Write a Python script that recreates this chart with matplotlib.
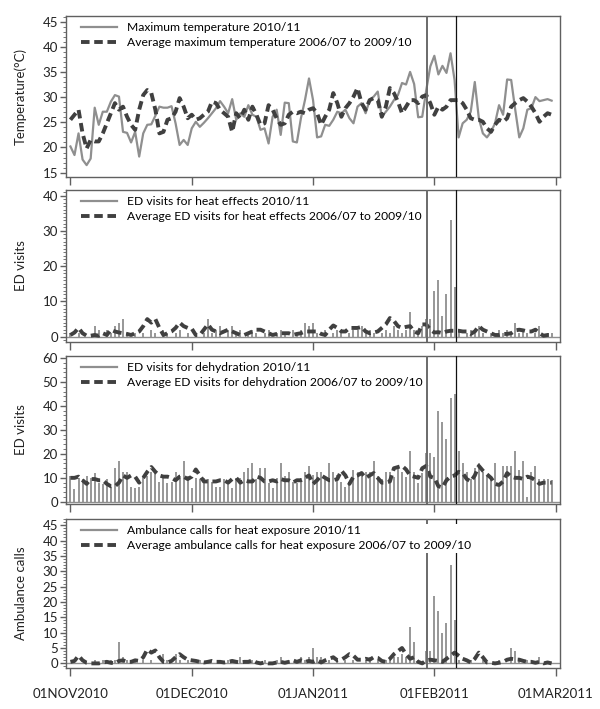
import matplotlib
matplotlib.use("Agg")
import matplotlib.pyplot as plt
from matplotlib.lines import Line2D
from matplotlib.ticker import MultipleLocator
import numpy as np

plt.rcParams['font.family'] = ['Lato', 'DejaVu Sans']

# ---------------- data ----------------
days = list(range(120))  # day 0 = 01NOV2010
xtick_pos = [0, 30, 60, 90, 120]
xtick_labels = ["01NOV2010", "01DEC2010", "01JAN2011", "01FEB2011", "01MAR2011"]
ref_lines = [88.1, 95.4]

temp_max = [20.2, 18.5, 22.8, 17.6, 16.5, 17.8, 27.9, 24.5, 27.1, 27.1,
            29.1, 30.4, 30.1, 23.1, 22.9, 21.0, 23.1, 18.2, 22.8, 24.5,
            24.6, 26.3, 28.1, 27.9, 27.9, 28.2, 24.8, 20.5, 21.5, 20.5,
            23.8, 25.1, 24.1, 24.9, 25.8, 26.8, 27.8, 29.2, 28.1, 26.8,
            29.6, 25.5, 26.8, 26.1, 28.4, 26.5, 26.1, 23.5, 23.8, 20.8,
            26.1, 27.5, 22.5, 28.9, 28.8, 21.2, 21.0, 25.8, 29.4, 33.7,
            29.4, 22.0, 22.2, 24.5, 24.3, 25.5, 27.1, 26.8, 27.5, 25.8,
            24.8, 28.1, 28.8, 26.8, 29.4, 30.1, 31.1, 26.1, 27.1, 28.1,
            29.4, 30.4, 32.8, 32.5, 35.0, 32.6, 26.0, 26.1, 31.4, 36.1,
            38.2, 34.5, 36.2, 34.8, 38.7, 33.4, 22.0, 24.8, 25.5, 27.1,
            33.0, 25.8, 22.8, 22.0, 23.1, 24.8, 28.4, 26.5, 33.5, 33.4,
            27.5, 22.0, 23.8, 27.5, 27.8, 30.0, 29.2, 29.4, 29.6, 29.3]

temp_avg = [25.5, 26.5, 27.5, 22.8, 19.8, 21.5, 21.2, 21.2, 22.8, 24.8,
            26.8, 28.8, 27.5, 28.1, 26.1, 24.5, 23.5, 27.5, 30.4, 31.4,
            30.8, 27.5, 22.8, 23.1, 25.5, 25.8, 27.1, 29.8, 28.1, 25.8,
            26.5, 25.5, 25.8, 26.5, 27.1, 29.1, 28.8, 27.5, 26.8, 26.1,
            23.1, 26.8, 25.8, 27.5, 25.5, 28.1, 26.5, 24.5, 24.8, 28.4,
            27.5, 25.8, 24.5, 24.8, 26.5, 27.1, 26.8, 27.1, 26.8, 27.5,
            27.8, 26.8, 24.5, 26.1, 27.5, 30.8, 28.8, 26.1, 27.8, 28.8,
            30.1, 31.8, 28.8, 27.5, 29.4, 29.8, 29.4, 26.1, 28.1, 31.8,
            30.8, 29.1, 26.8, 28.1, 29.4, 29.4, 28.8, 30.1, 30.4, 28.8,
            26.5, 28.1, 27.5, 28.1, 29.4, 29.4, 29.4, 28.8, 27.5, 25.8,
            25.5, 25.5, 25.1, 23.8, 23.1, 24.5, 25.5, 25.1, 25.8, 28.1,
            28.8, 29.4, 29.8, 29.1, 28.1, 26.8, 25.1, 26.1, 26.8, 26.5]

ed_heat = [1, 0, 1, 0, 0, 0, 3, 2, 0, 2,
           1, 3, 4, 5, 1, 0, 1, 0, 1, 0,
           2, 1, 0, 2, 1, 0, 1, 2, 0, 1,
           0, 1, 0, 1, 5, 1, 2, 3, 0, 2,
           3, 1, 2, 0, 1, 2, 1, 0, 1, 2,
           0, 1, 2, 1, 0, 2, 1, 2, 4, 3,
           4, 1, 0, 2, 0, 1, 2, 1, 0, 1,
           2, 2, 3, 1, 2, 1, 0, 1, 2, 1,
           3, 2, 1, 2, 7, 2, 1, 3, 5, 5,
           13, 16, 6, 12, 33, 14, 2, 0, 1, 2,
           1, 3, 1, 0, 1, 0, 2, 1, 2, 1,
           4, 1, 2, 1, 0, 1, 3, 0, 1, 1]

ed_heat_avg = [0.5, 1.2, 2.5, 1.0, 0.3, 0.3, 0.5, 0.3, 1.0, 0.5,
               2.0, 1.5, 1.2, 1.0, 0.8, 0.5, 1.0, 1.5, 3.0, 5.0,
               4.0, 5.0, 2.5, 0.5, 1.0, 1.5, 2.5, 4.0, 3.0, 2.5,
               2.3, 0.5, 0.5, 2.0, 3.5, 2.0, 1.5, 1.0, 1.5, 2.0,
               1.5, 1.0, 0.5, 0.5, 1.0, 1.5, 2.0, 2.0, 1.5, 1.0,
               0.5, 0.8, 1.0, 1.0, 1.0, 0.5, 0.8, 1.0, 1.5, 1.5,
               1.5, 1.5, 0.8, 0.5, 2.0, 3.2, 2.5, 1.5, 1.5, 2.5,
               2.5, 2.5, 2.8, 1.5, 1.0, 1.2, 1.5, 2.5, 3.5, 5.3,
               4.5, 3.0, 2.5, 2.8, 3.0, 1.5, 1.0, 3.5, 3.5, 2.0,
               1.2, 1.3, 1.0, 1.5, 1.7, 1.7, 1.7, 1.5, 1.5, 0.8,
               1.5, 3.0, 2.0, 1.5, 1.0, 0.5, 0.5, 0.8, 0.8, 1.0,
               1.8, 2.0, 1.8, 1.5, 1.5, 2.0, 1.0, 0.3, 0.5, 0.5]

dehyd = [10.9, 5.3, 10.0, 9.5, 10.9, 9.8, 12.2, 7.7, 7.3, 9.5,
         6.3, 14.0, 17.1, 12.3, 12.3, 6.2, 5.6, 6.2, 10.9, 10.9,
         12.3, 12.3, 8.4, 10.9, 7.7, 8.4, 12.3, 10.9, 17.1, 10.9,
         5.6, 9.8, 9.5, 10.0, 9.5, 8.4, 6.3, 6.3, 9.5, 8.4,
         5.6, 10.0, 10.0, 12.3, 14.0, 16.1, 9.5, 14.0, 14.0, 7.7,
         5.6, 10.0, 16.1, 10.9, 12.3, 8.4, 7.7, 10.0, 12.6, 15.0,
         11.2, 12.3, 12.3, 9.5, 16.1, 12.3, 11.2, 8.4, 6.3, 7.7,
         13.3, 12.3, 10.9, 12.3, 12.3, 17.1, 10.9, 9.5, 12.3, 12.3,
         10.5, 14.0, 12.3, 10.5, 21.0, 12.3, 7.7, 11.9, 20.3, 20.3,
         18.9, 38.0, 33.1, 26.3, 43.4, 45.0, 21.0, 16.1, 12.3, 9.5,
         14.0, 16.1, 12.3, 10.9, 9.5, 16.1, 6.3, 15.0, 15.0, 15.0,
         21.0, 13.3, 17.1, 2.1, 12.3, 15.0, 9.5, 9.5, 9.5, 9.0]

dehyd_avg = [10.0, 10.0, 10.5, 9.0, 7.5, 9.5, 9.5, 9.0, 9.0, 7.5,
             6.5, 6.5, 8.0, 11.0, 10.0, 11.0, 10.5, 8.0, 10.0, 12.5,
             14.5, 12.5, 11.0, 10.5, 10.5, 10.0, 9.0, 10.5, 10.5, 9.5,
             10.5, 13.5, 11.0, 8.5, 8.5, 8.5, 8.5, 9.0, 9.0, 8.0,
             9.5, 10.0, 8.0, 9.0, 8.5, 8.5, 10.5, 10.0, 8.5, 8.5,
             9.0, 8.5, 9.5, 9.0, 9.0, 8.0, 9.0, 9.0, 10.0, 11.0,
             7.5, 9.0, 11.0, 10.0, 9.0, 9.0, 9.5, 13.0, 11.0, 7.5,
             10.5, 11.0, 12.0, 10.0, 11.0, 12.0, 10.0, 8.0, 8.0, 8.5,
             14.0, 14.5, 15.0, 13.5, 11.0, 10.5, 10.0, 14.0, 15.0, 10.5,
             10.0, 6.5, 6.0, 9.0, 10.5, 11.0, 12.5, 12.0, 9.5, 8.5,
             11.0, 15.0, 13.0, 11.5, 10.0, 7.5, 7.0, 8.5, 12.0, 10.5,
             10.0, 10.0, 9.5, 10.5, 10.0, 9.0, 7.5, 8.0, 8.0, 8.0]

amb = [0, 1, 0, 0, 0, 0, 1, 0, 1, 0,
       1, 1, 7, 2, 1, 0, 1, 0, 1, 0,
       1, 0, 0, 3, 1, 0, 3, 1, 0, 1,
       0, 0, 1, 0, 1, 0, 0, 1, 0, 1,
       0, 1, 2, 1, 0, 1, 0, 0, 1, 0,
       0, 1, 2, 0, 1, 0, 1, 2, 1, 2,
       5, 2, 2, 0, 1, 0, 1, 0, 1, 0,
       1, 0, 0, 1, 2, 0, 1, 0, 1, 1,
       2, 2, 3, 2, 12, 7, 1, 0, 4, 4,
       22, 17, 10, 13, 32, 14, 1, 0, 0, 1,
       0, 0, 1, 0, 0, 0, 1, 0, 0, 5,
       4, 1, 0, 1, 0, 0, 2, 0, 0, 0]

amb_avg = [0.5, 0.8, 2.5, 1.0, 0.2, 0.0, 0.0, 0.0, 0.3, 0.5,
           0.2, 0.0, 0.8, 1.0, 0.5, 0.5, 1.0, 0.8, 2.0, 4.5,
           3.5, 4.2, 2.0, 0.5, 0.3, 0.8, 2.0, 3.0, 2.0, 1.2,
           1.0, 0.8, 0.5, 0.3, 0.5, 0.8, 0.5, 0.5, 0.3, 0.5,
           0.8, 0.5, 0.3, 0.5, 0.5, 1.0, 0.3, 0.0, 0.3, 0.0,
           0.0, 0.3, 0.5, 0.2, 0.5, 1.0, 0.5, 1.0, 0.5, 0.8,
           0.5, 1.0, 0.3, 1.0, 1.5, 2.0, 1.0, 1.2, 2.0, 3.0,
           2.5, 1.2, 1.2, 1.5, 1.2, 2.0, 1.8, 0.8, 0.5, 1.5,
           3.0, 4.0, 5.0, 3.0, 1.5, 2.0, 0.5, 0.0, 1.0, 1.2,
           1.0, 0.8, 0.5, 1.5, 2.5, 3.5, 2.5, 1.5, 1.0, 0.3,
           1.5, 3.5, 2.0, 0.3, 0.2, 0.0, 0.2, 0.5, 1.2, 1.5,
           1.3, 1.2, 0.8, 0.5, 0.5, 0.2, 0.5, 0.0, 0.3, 0.0]

labels = [("Maximum temperature 2010/11", "Average maximum temperature 2006/07 to 2009/10"),
          ("ED visits for heat effects 2010/11", "Average ED visits for heat effects 2006/07 to 2009/10"),
          ("ED visits for dehydration 2010/11", "Average ED visits for dehydration 2006/07 to 2009/10"),
          ("Ambulance calls for heat exposure 2010/11", "Average ambulance calls for heat exposure 2006/07 to 2009/10")]
ylabels = ["Temperature(\u00b0C)", "ED visits", "ED visits", "Ambulance calls"]

# ---------------- layout ----------------
W, H = 600, 709
fig = plt.figure(figsize=(W / 100, H / 100), dpi=100)
left_px, right_px = 66.4, 559.7
panels_px = [(16, 176.7), (190, 341.7), (356, 504), (519, 668.3)]
ylims = [(14.2, 46.1), (-1.4, 41.6), (-0.9, 60.8), (-1.6, 47)]
ymajor = [5, 10, 10, 5]
yminor = [1, 1, 2, 1]

GRAY = "#8f8f8f"
DARK = "#404040"
SPINE = "#606060"
TXT = "#222222"
FS = 8.7
dash = (0, (2.2, 1.2))

axes = []
for i, (top, bot) in enumerate(panels_px):
    ax = fig.add_axes([left_px / W, 1 - bot / H, (right_px - left_px) / W, (bot - top) / H])
    axes.append(ax)

series = [(temp_max, temp_avg, 'line'), (ed_heat, ed_heat_avg, 'bar'),
          (dehyd, dehyd_avg, 'bar'), (amb, amb_avg, 'bar')]

for i, ax in enumerate(axes):
    cur, avg, kind = series[i]
    if kind == 'line':
        ax.plot(days, cur, color=GRAY, lw=1.6, zorder=2)
    else:
        ax.axhline(0, color=GRAY, lw=1.0, zorder=1)
        ax.vlines(days, 0, cur, color=GRAY, lw=1.3, zorder=2)
    ax.plot(days, avg, color=DARK, lw=2.8, linestyle=dash, zorder=3)
    ax.axvline(ref_lines[0], color="#6a6a6a", lw=1.4, zorder=4)
    ax.axvline(ref_lines[1], color="#111111", lw=0.9, zorder=4)

    ax.set_xlim(-1, 121)
    ax.set_ylim(*ylims[i])
    ax.yaxis.set_major_locator(MultipleLocator(ymajor[i]))
    ax.yaxis.set_minor_locator(MultipleLocator(yminor[i]))
    ax.set_xticks(xtick_pos)
    if i == 3:
        ax.set_xticklabels(xtick_labels, fontsize=9.5, color=TXT)
    else:
        ax.set_xticklabels([])
    ax.tick_params(axis='x', direction='out', length=6, width=1, color=SPINE, pad=8)
    ax.tick_params(axis='y', which='major', direction='out', length=4, width=1,
                   color=SPINE, labelsize=9.5, labelcolor=TXT, pad=2)
    ax.tick_params(axis='y', which='minor', direction='out', length=2, width=0.6, color=SPINE)
    for s in ax.spines.values():
        s.set_color(SPINE)
        s.set_linewidth(1.0)
    ax.set_ylabel(ylabels[i], fontsize=9.5, color=TXT)
    ax.yaxis.set_label_coords(-0.08, 0.5)

    handles = [Line2D([], [], color=GRAY, lw=1.6),
               Line2D([], [], color=DARK, lw=2.8, linestyle=dash)]
    top = panels_px[i][0]
    anchor = (80 / W, 1 - (top + 5) / H)
    leg = ax.legend(handles, labels[i], loc='upper left', bbox_to_anchor=anchor,
                    bbox_transform=fig.transFigure,
                    fontsize=FS, frameon=True, handlelength=3.0, handletextpad=0.8,
                    borderpad=0.1, labelspacing=0.35, borderaxespad=0.0)
    leg.get_frame().set_facecolor('white')
    leg.get_frame().set_edgecolor('none')
    leg.get_frame().set_alpha(1.0)
    leg.set_zorder(10)

fig.savefig("out.png", dpi=100)
